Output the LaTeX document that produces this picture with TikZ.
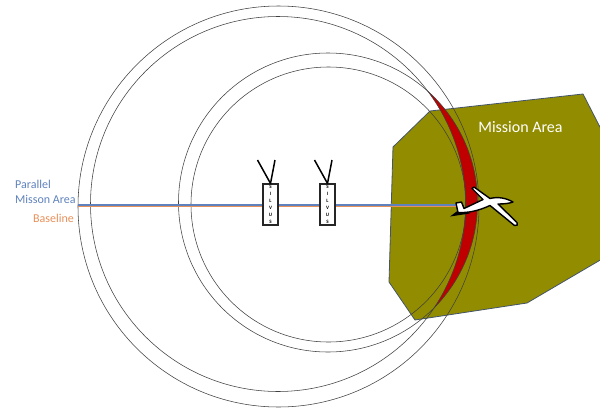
\documentclass[tikz,border=0pt]{standalone}
\usepackage{fontspec}
\setmainfont{Carlito}
\definecolor{olivefill}{HTML}{928D00}
\definecolor{areaedge}{HTML}{44546A}
\definecolor{crescent}{HTML}{C00000}
\definecolor{parblue}{HTML}{5F82BC}
\definecolor{baseorange}{HTML}{E8905A}
\tikzset{
  rangering/.style={draw=black!75,line width=0.55pt},
  radiobox/.style={draw=black!85,fill=white,line width=1.1pt,minimum width=15pt,minimum height=41pt,inner sep=0pt,font=\fontsize{5}{7}\selectfont\bfseries,align=center},
  antenna/.style={draw=black,line width=1.5pt},
  pathline/.style={line width=1.3pt},
  plane/.style={draw=black,fill=white,line width=1.4pt,line join=round}
}
\begin{document}
\begin{tikzpicture}[x=1pt,y=-1pt]
\useasboundingbox (0,0) rectangle (600,410);
% mission area
\path[clip] (0,0) rectangle (600,410);
\draw[fill=olivefill,draw=areaedge,line width=0.8pt]
  (430,111) -- (583,94) -- (602,131) -- (602,259) -- (527,303) -- (415,320) -- (389,282) -- (393,147) -- cycle;
% crescent
\fill[crescent] plot[domain=-48.2:44.7,samples=80] ({328+149.5*cos(\x)},{202.5+149.5*sin(\x)})
  -- plot[domain=33.6:-37,samples=80] ({278+187.5*cos(\x)},{204+187.5*sin(\x)}) -- cycle;
% range rings
\coordinate (bigc) at (278.5,206.5);
\coordinate (bigi) at (278,204);
\coordinate (medc) at (328,202.5);
\coordinate (medi) at (328.5,204.5);
\draw[rangering] (bigc) circle[radius=200.5pt];
\draw[rangering] (bigi) circle[radius=187.5pt];
\draw[rangering] (medc) circle[radius=149.5pt];
\draw[rangering] (medi) circle[radius=137.5pt];
% baselines
\coordinate (bL) at (78,205);
\coordinate (bR) at (458,205);
\coordinate (oL) at (78,206.8);
\coordinate (oR) at (458,206.8);
\draw[pathline,parblue] (bL) -- (bR);
\draw[pathline,baseorange] (oL) -- (oR);
% radios
\node[radiobox] (r1) at (270.5,204.5) {S\\I\\L\\V\\U\\S};
\node[radiobox] (r2) at (327.5,204.5) {S\\I\\L\\V\\U\\S};
\coordinate (a1l) at (257.5,160);
\coordinate (a1r) at (275,160);
\coordinate (a2l) at (314.5,160);
\coordinate (a2r) at (332,160);
\draw[antenna] (r1.north) -- (a1l);
\draw[antenna] (r1.north) -- (a1r);
\draw[antenna] (r2.north) -- (a2l);
\draw[antenna] (r2.north) -- (a2r);
% aircraft
\fill[black] (450,216.5) -- (458,210.5) -- (470,213.5) -- cycle;
\draw[plane]
  (513,202) .. controls (506,198) and (498,196.5) .. (490,198.5)
  -- (474,187) -- (472,188.5) -- (483,199.5)
  -- (464,208.5) -- (461.5,202) -- (456,203) -- (458,212.5)
  .. controls (468,213) and (478,211) .. (490,205.5)
  -- (514.5,225.5) .. controls (517,226.5) and (518.5,224.5) .. (517,222.5)
  -- (498,204) .. controls (504,204) and (509,203.5) .. (513,202) -- cycle;
% labels
\node[anchor=west,inner sep=0pt,text=parblue,font=\fontsize{12}{15}\selectfont,align=left] (lp) at (15,191.5) {Parallel\\Misson Area};
\node[anchor=west,inner sep=0pt,text=baseorange,font=\fontsize{12}{14}\selectfont] (lb) at (33,218) {Baseline};
\node[inner sep=0pt,text=white,font=\fontsize{16}{19}\selectfont] (lm) at (520.5,127.5) {Mission Area};
\end{tikzpicture}
\end{document}
